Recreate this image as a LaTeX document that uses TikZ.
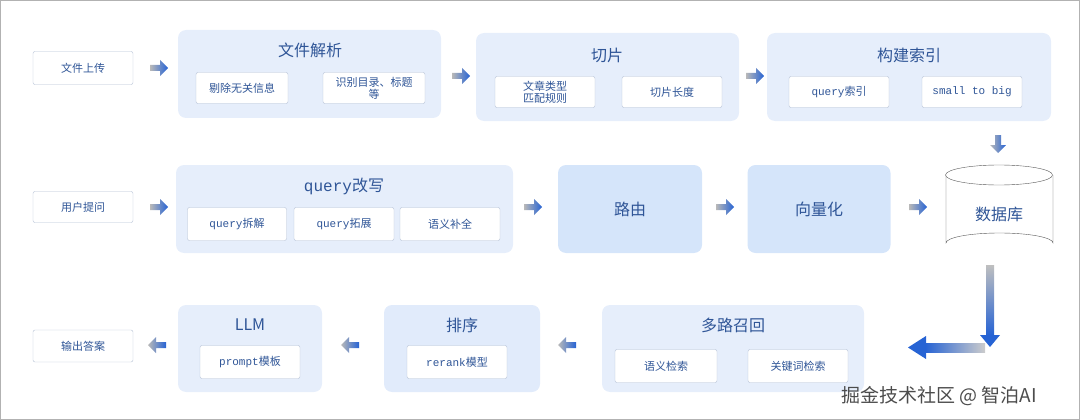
\documentclass[tikz,border=0pt]{standalone}
\usepackage{fontspec}
\setmainfont{Noto Sans CJK SC}
\newfontfamily\monof{Liberation Mono}
\usetikzlibrary{shapes.geometric}
\definecolor{grp}{HTML}{E6EEFB}
\definecolor{solid}{HTML}{D5E5FA}
\definecolor{tblue}{HTML}{2F5597}
\definecolor{bd}{HTML}{B4C0D4}
\begin{document}
\begin{tikzpicture}[x=1pt,y=-1pt,
  grpbox/.style={fill=grp,rounded corners=8pt,draw=none},
  solidbox/.style={fill=solid,rounded corners=8pt,draw=none,font=\fontsize{16}{18}\selectfont,text=tblue},
  sub/.style={fill=white,draw=bd,rounded corners=2pt,font=\fontsize{11}{12}\selectfont,text=tblue,align=center,inner sep=0pt},
  ttl/.style={font=\fontsize{16}{18}\selectfont,text=tblue},
  pics/barr/.style={code={
    \path[left color=gray!55,right color=blue!65!cyan!80!black!85,draw=none]
      (-9,-3)--(1,-3)--(1,-8)--(9,0)--(1,8)--(1,3)--(-9,3)--cycle;}}]
\useasboundingbox (0,0) rectangle (1080,420);
\draw[gray!60,line width=1pt] (0.5,0.5) rectangle (1079.5,419.5);
\newcommand\rbox[3]{\path (#1) coordinate (#1a);}
% row 1
\node[sub,minimum width=100,minimum height=33] (up) at (83,68) {文件上传};
\path[grpbox] (178,30) rectangle (441,118);
\node[ttl] (t1) at (310,50) {文件解析};
\node[sub,minimum width=92,minimum height=31] (s11) at (242,88) {剔除无关信息};
\node[sub,minimum width=102,minimum height=31] (s12) at (374,88) {识别目录、标题\\等};
\path[grpbox] (476,33) rectangle (739,121);
\node[ttl] (t2) at (607,55) {切片};
\node[sub,minimum width=100,minimum height=31] (s21) at (545,92) {文章类型\\匹配规则};
\node[sub,minimum width=100,minimum height=31] (s22) at (672,92) {切片长度};
\path[grpbox] (767,33) rectangle (1051,121);
\node[ttl] (t3) at (909,55) {构建索引};
\node[sub,minimum width=100,minimum height=31] (s31) at (839,92) {{\monof query}索引};
\node[sub,minimum width=100,minimum height=31] (s32) at (972,92) {\monof small to big};
\pic at (159,68) {barr};
\pic at (461,76) {barr};
\pic at (755,76) {barr};
\pic[rotate=-90] at (998,144) {barr};
% row 2
\node[sub,minimum width=100,minimum height=31] (ask) at (83,207) {用户提问};
\path[grpbox] (176,165) rectangle (513,253);
\node[ttl] (t4) at (344,186) {{\monof query}改写};
\node[sub,minimum width=99,minimum height=33] (s41) at (237,224) {{\monof query}拆解};
\node[sub,minimum width=100,minimum height=33] (s42) at (344,224) {{\monof query}拓展};
\node[sub,minimum width=100,minimum height=33] (s43) at (450,224) {语义补全};
\node[solidbox,minimum width=144,minimum height=88] (route) at (630,209) {路由};
\node[solidbox,minimum width=143,minimum height=88] (vec) at (819,209) {向量化};
\pic at (159,207) {barr};
\pic at (533,207) {barr};
\pic at (725,207) {barr};
\pic at (918,207) {barr};
% cylinder
\node[text=tblue,font=\fontsize{16}{18}\selectfont] (db) at (999,214) {数据库};
\draw[gray!70!black,fill=white] (946,175) -- (946,243) arc[start angle=180,end angle=360,x radius=53.5,y radius=10] -- (1053,175);
\draw[gray!70!black,fill=white] (999,175) ellipse[x radius=53.5,y radius=10];
\node[text=tblue,font=\fontsize{16}{18}\selectfont] at (999,214) {数据库};
% bend arrow
\path[top color=gray!50,bottom color=blue!65!cyan!80!black!85] (986,265) rectangle (994,335);
\path[fill=blue!65!cyan!80!black!85] (980,335)--(1000,335)--(990,347)--cycle;
\path[left color=blue!65!cyan!80!black!85,right color=gray!40] (925,343) rectangle (985,352);
\path[fill=blue!65!cyan!80!black!85] (926,336)--(926,359)--(908,347.5)--cycle;
% row 3
\path[grpbox] (602,305) rectangle (864,392);
\node[ttl] (t5) at (733,325) {多路召回};
\node[sub,minimum width=102,minimum height=33] (s51) at (666,366) {语义检索};
\node[sub,minimum width=100,minimum height=33] (s52) at (798,366) {关键词检索};
\path[grpbox,fill=grp!70!solid] (384,305) rectangle (540,392);
\node[ttl] (t6) at (462,325) {排序};
\node[sub,minimum width=100,minimum height=33] (s61) at (457,362) {{\monof rerank}模型};
\path[grpbox] (178,305) rectangle (322,392);
\node[ttl] (t7) at (250,325) {LLM};
\node[sub,minimum width=100,minimum height=33] (s71) at (250,362) {{\monof prompt}模板};
\node[sub,minimum width=100,minimum height=32] (out) at (83,346) {输出答案};
\pic[rotate=180] at (567,345) {barr};
\pic[rotate=180] at (350,345) {barr};
\pic[rotate=180] at (157,345) {barr};
\node[text=white,font=\fontsize{19}{20}\selectfont,draw=none] (wm) at (939,396) {\textcolor{gray!60!black}{掘金技术社区 @ 智泊AI}};
\end{tikzpicture}
\end{document}
